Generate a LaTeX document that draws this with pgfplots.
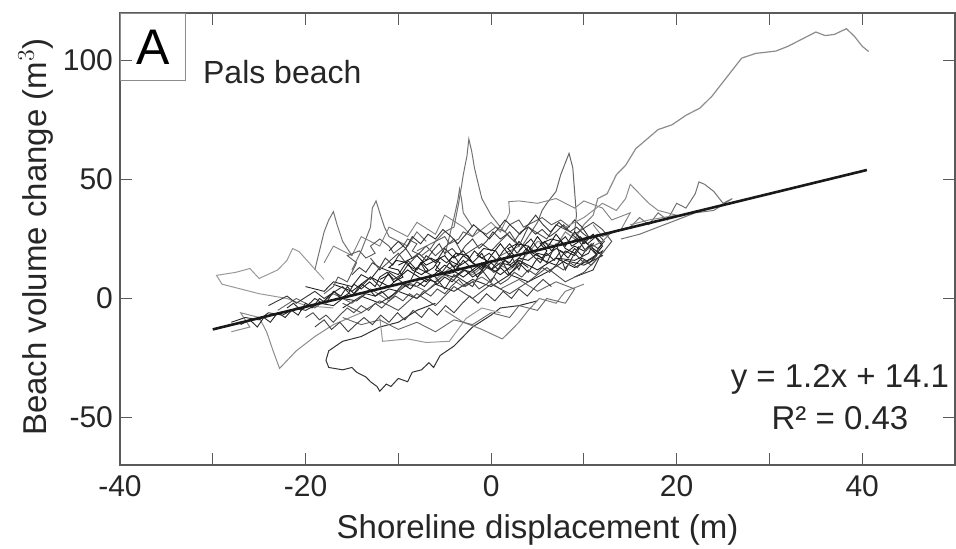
\documentclass[border=0pt]{standalone}
\usepackage{pgfplots}
\pgfplotsset{compat=1.18}
\usepackage{fontspec}
\setmainfont{Liberation Sans}
\definecolor{axgray}{RGB}{90,90,90}
\begin{document}
\begin{tikzpicture}
\begin{axis}[
  at={(0,0)}, anchor=south west,
  scale only axis, width=417.5pt, height=226pt,
  xmin=-40, xmax=50, ymin=-70, ymax=120,
  xtick={-40,-30,...,40}, xticklabels={-40,,-20,,0,,20,,40},
  ytick={-50,0,50,100},
  tick align=inside, tick pos=both,
  major tick length=6pt,
  axis line style={axgray, line width=0.9pt},
  tick style={axgray, line width=0.6pt},
  /pgf/number format/assume math mode=true,
  tick label style={font=\fontsize{15}{18}\selectfont, text=black!85},
  xticklabel style={yshift=-1.5pt},
  label style={font=\fontsize{16.5}{19}\selectfont, text=black!85},
  xlabel={Shoreline displacement (m)},
  ylabel={Beach volume change (m$^3$)},
  xlabel style={yshift=-2.5pt},
  ylabel style={xshift=1pt, yshift=-2pt},
  clip=true,
]
% long grey excursion to the upper right
\addplot[black!45, line width=0.6pt] coordinates {
(-6,8) (-4,14) (-2,10) (0,16) (2,12) (4,19) (5,24) (7,22) (8,28) (9,25) (10,31) (11,35) (11.5,42) (12.5,44) (13.5,52) (14.5,56) (15.6,63) (16.5,66) (18,71) (19.5,73) (21,77) (22.5,80) (23.8,85) (25,91) (26,96) (27,101) (28.5,103) (30.7,104) (32,106) (33.5,109) (35,112) (36,110.5) (37,111) (38.3,113.4) (39.2,110) (40,106) (40.7,103.8)};
% spikes
\addplot[black!55, line width=0.5pt] coordinates {
(-8,20) (-6,24) (-5,28) (-4,30) (-3.5,40) (-3.2,47) (-3,52) (-2.6,60) (-2.4,67) (-2.1,62) (-1.8,55) (-1.5,50) (-1,42) (0,35) (1,30) (2,26) (3,22) (1,18)};
\addplot[black!60, line width=0.5pt] coordinates {
(3,20) (4,26) (5,32) (5.5,37) (6,40) (7,45) (7.5,52) (8,57) (8.4,61) (8.8,55) (9,45) (9.2,35) (9,28) (10,24) (11,27)};
\addplot[black!55, line width=0.5pt] coordinates {
(-5,18) (-4.5,26) (-4,34) (-3.6,41) (-3.4,46) (-3.2,42) (-3,36) (-2,30)};
\addplot[black!55, line width=0.5pt] coordinates {
(-15,12) (-14,20) (-13,30) (-12.8,38) (-12.4,41) (-12,36) (-11.5,30) (-11,26) (-9,22) (-8,28) (-7,24)};
\addplot[black!55, line width=0.5pt] coordinates {
(-19,12) (-18.5,20) (-18,28) (-17.5,33) (-17,36.5) (-16.6,31) (-16,24) (-15,18)};
% lower excursion
\addplot[black!80, line width=0.5pt] coordinates {
(-6,-2) (-8,-5) (-10,-10) (-12,-12) (-14,-16) (-16,-18) (-17.5,-22) (-17.8,-26) (-17.5,-29) (-16,-30) (-15,-29) (-14.5,-31) (-13.5,-33) (-13,-35) (-12.3,-37) (-12,-39) (-11.3,-36) (-10.8,-37) (-10,-33.6) (-9,-35) (-8.5,-31) (-7.5,-30) (-6.7,-27) (-6.2,-29) (-5.5,-24) (-4,-20) (-2,-12) (0,-7) (1,-4) (3,-3) (5,-1)};
\addplot[black!40, line width=0.5pt] coordinates {
(-12,-8) (-11.7,-18) (-9,-17) (-7,-18.5) (-4.5,-18) (-2.7,-8.4) (-1,-4) (1,-6)};
\addplot[black!50, line width=0.5pt] coordinates {
(-5,-5) (-3,-10) (-1,-13) (1.2,-17) (2,-14) (3,-10) (4,-5) (5.2,0) (7,-2) (8,3) (10,6)};
% left grey loops
\addplot[black!40, line width=0.5pt] coordinates {
(-18,8) (-20.7,19.7) (-21.4,21) (-22,16) (-23,12) (-25,8.4) (-26,12.6) (-27.5,11) (-29.6,9.7) (-29,6) (-27,4) (-25,2) (-22,0) (-20,-3) (-17,-4)};
\addplot[black!45, line width=0.5pt] coordinates {
(-14,-6) (-17,-11) (-19,-16) (-21,-22) (-22.8,-29.4) (-23.5,-22) (-24.2,-14) (-25,-8) (-27,-6) (-26,-12) (-28,-14)};
% dense cluster
\addplot[black!85, line width=0.45pt] coordinates {
(-28,-10) (-26.5,-8) (-25,-9) (-24,-6) (-22.5,-7) (-21,-4) (-20,-5) (-18.5,-2) (-17,-3) (-16,0) (-14.5,-1) (-13.5,2) (-12.5,1) (-11,4) (-10,3) (-9,6) (-8,5) (-7,8) (-6,7) (-5,10) (-4,9) (-3,12) (-2,11) (-1,14) (0,12) (1,15) (2,14) (3,17) (4,16) (5,19) (6,18) (7,21) (8,19) (9,22) (10,20) (11,23) (10.5,19) (9,16) (7,17)};
\addplot[black!85, line width=0.45pt] coordinates {
(-20,5) (-18,3) (-17,7) (-15,5) (-14,10) (-13,8) (-12,13) (-10,10) (-9,16) (-8,12) (-7,18) (-6,15) (-5,21) (-4,17) (-3,20) (-2,15) (-1,19) (0,12) (1,17) (2,10) (3,15) (4,11) (5,17) (7,14) (8,20) (9,18) (10,24) (11,21) (12,18) (10,14) (8,16) (6,11) (4,7) (2,10) (0,5) (-2,8) (-4,3) (-6,6) (-8,0) (-10,3) (-12,-2) (-14,1) (-16,-4)};
\addplot[black!60, line width=0.45pt] coordinates {
(-16,-8) (-14,-11) (-12,-9) (-10,-13) (-8,-10) (-6,-14) (-4,-9) (-2,-11) (0,-6) (2,-8) (3,-3) (5,-5) (6,0) (8,-2) (9,4) (7,7) (5,3) (3,8) (1,4) (-1,9) (-3,5) (-5,10) (-7,3) (-9,7) (-11,-1) (-13,4) (-15,-2) (-17,2) (-19,-4) (-21,0) (-23,-5)};
\addplot[black!90, line width=0.45pt] coordinates {
(-10,14) (-8,18) (-7,14) (-5,18) (-4,13) (-3,18) (-1,12) (0,18) (1,23) (2,18) (3,24) (4,20) (5,26) (6,21) (7,27) (8,22) (9,28) (10,23) (11,27) (12,22) (11,17) (9,13) (7,17) (5,12) (3,16) (1,10) (-1,15) (-3,9) (-5,14) (-7,7) (-9,12) (-11,5) (-13,9) (-15,3) (-17,6)};
\addplot[black!50, line width=0.45pt] coordinates {
(-18,15) (-17,22) (-15,18) (-14,26) (-12,22) (-11,30) (-9,26) (-8,32) (-6,27) (-5,35) (-3,30) (-2,26) (0,32) (1,28) (2,36) (1.9,40.7) (3,41) (5,40) (7,42) (9,38) (10,41) (12,38) (13,33) (15,36) (14,29) (12,26) (11,31)};
\addplot[black!80, line width=0.45pt] coordinates {
(-24,-3) (-22,1) (-21,-2) (-19,3) (-18,0) (-16,5) (-15,1) (-13,9) (-12,5) (-11,11) (-9,5) (-8,13) (-6,9) (-5,4) (-4,10) (-2,5) (-1,12) (0,7) (1,14) (2,19) (3,12) (4,22) (6,15) (7,23) (8,12) (9,19) (10,15) (12,20) (11,12) (9,9)};
\addplot[black!70, line width=0.45pt] coordinates {
(-13,17) (-12,12) (-10,19) (-9,14) (-7,22) (-6,18) (-4,25) (-3,18) (-1,23) (0,20) (2,28) (3,22) (4,30) (6,25) (7,31) (9,27) (11,32) (12,29) (13,24) (12,19) (10,11) (8,7) (6,13) (4,7) (2,2) (0,6) (-2,0) (-4,5) (-6,-3) (-8,2) (-10,-5) (-12,-1) (-14,-6) (-16,-2)};
\addplot[black!85, line width=0.45pt] coordinates {
(-22,-4) (-21.3,-2) (-20.5,-5) (-19.8,-3) (-19,0) (-18.2,-2) (-17.5,1) (-16.9,3) (-16.2,0) (-15.4,2) (-14.8,6) (-14,4) (-13.1,7) (-12.5,5) (-12,9) (-11.2,11) (-10.5,8) (-9.7,10) (-9,14) (-8.1,12) (-7.6,15) (-7,11) (-6.2,13) (-5.5,17) (-4.8,15) (-4,18) (-3.3,14) (-2.5,16) (-1.8,20) (-1,17) (-0.2,19) (0.6,16) (1.3,20) (2,23) (2.8,19) (3.5,22) (4.3,25) (5,21) (5.8,24) (6.5,20) (7.2,23) (8,26) (8.7,22) (9.5,24) (10.2,20) (10.8,22) (11.4,18) (10.6,15) (9.8,17) (9,14)};
\addplot[black!75, line width=0.45pt] coordinates {
(-15,10) (-14.2,13) (-13.5,11) (-12.8,15) (-12,13) (-11.4,17) (-10.6,14) (-10,18) (-9.2,21) (-8.5,17) (-7.8,19) (-7,16) (-6.3,20) (-5.6,23) (-5,19) (-4.2,21) (-3.5,18) (-2.8,22) (-2,25) (-1.3,21) (-0.5,24) (0.2,28) (1,25) (1.7,27) (2.5,24) (3.2,28) (4,30) (4.8,27) (5.5,29) (6.3,26) (7,28) (7.8,31) (8.5,28) (9.2,30) (10,27) (10.7,25) (11.5,27) (12.2,24) (11.5,21) (10.8,23) (10,20)};
\addplot[black!70, line width=0.45pt] coordinates {
(-20,-8) (-19.2,-6) (-18.5,-9) (-17.8,-7) (-17,-10) (-16.3,-7) (-15.5,-4) (-14.8,-6) (-14,-3) (-13.2,-5) (-12.5,-2) (-11.8,-4) (-11,-1) (-10.3,1) (-9.5,-1) (-8.8,2) (-8,0) (-7.3,3) (-6.5,1) (-5.8,4) (-5,2) (-4.3,5) (-3.5,8) (-2.8,5) (-2,7) (-1.3,4) (-0.5,6) (0.3,9) (1,6) (1.8,8) (2.5,11) (3.3,9) (4,12) (4.8,10) (5.5,13) (6.3,11) (7,14) (7.8,12) (8.5,15) (9.3,13) (10,16) (10.8,14) (11.5,17)};
\addplot[black!90, line width=0.45pt] coordinates {
(-12,8) (-11,10) (-10.5,7) (-9.5,9) (-10,12) (-11,13) (-10.2,16) (-9,15) (-8.5,12) (-7.5,10) (-6.8,12) (-7.5,15) (-6.5,17) (-5.5,15) (-6,12) (-5,10) (-4,11) (-3.5,14) (-4.5,16) (-3.8,19) (-2.5,18) (-2,15) (-1,13) (-0.5,16) (-1.5,18) (-0.8,21) (0.5,20) (1,17) (2,15) (2.5,18) (1.8,21) (2.8,23) (4,22) (4.5,19) (5.5,17) (6,20) (5.3,23) (6.5,25) (7.5,24) (8,21) (9,19) (9.5,22)};
\addplot[black!65, line width=0.45pt] coordinates {
(-18,2) (-17,5) (-16.5,9) (-15.5,7) (-15,11) (-14.5,15) (-15.5,18) (-14.2,20) (-13.5,17) (-12.5,19) (-13,22) (-12,25) (-11,22) (-10.5,19) (-9.5,22) (-9,25) (-8,23) (-8.5,20) (-7.5,18) (-6.5,21) (-6,24) (-5,26) (-4.5,23) (-3.5,25) (-3,28) (-2,26) (-1.5,29) (-0.5,27) (0.5,30) (1.5,28) (2,31) (3,33) (3.5,30) (4.5,32) (5.5,34) (6.5,31) (7.5,33) (8.5,30)};
\addplot[black!85, line width=0.45pt] coordinates {
(-27,-11) (-26,-9) (-25.2,-12) (-24.5,-8) (-23.8,-10) (-23,-6) (-22.2,-8) (-21.5,-5) (-20.8,-7) (-20,-2) (-19.3,-4) (-18.5,0) (-17.8,-2) (-17,3) (-16.2,1) (-15.5,5) (-14.8,2) (-14,6) (-13.2,4) (-12.5,1) (-11.8,3) (-11,0) (-10.2,3) (-9.5,6) (-8.7,4) (-8,7) (-7.2,5) (-6.5,8) (-5.8,6) (-5,9) (-4.2,7) (-3.5,10) (-2.8,12) (-2,9) (-1.2,11) (-0.5,14) (0.3,11) (1,13) (1.8,10) (2.5,12) (3.3,15) (4,13)};
\addplot[black!80, line width=0.45pt] coordinates {
(-11,20) (-10,24) (-9.2,21) (-8.5,26) (-7.6,23) (-6.8,27) (-6,25) (-5.2,29) (-4.3,26) (-3.6,23) (-2.7,27) (-1.9,31) (-1,28) (-0.2,25) (0.7,29) (1.5,33) (2.3,30) (3.1,27) (4,31) (4.8,35) (5.6,31) (6.4,28) (7.3,32) (8.1,29) (9,33) (9.8,30) (10.5,26) (9.6,24) (8.7,27)};
\addplot[black!75, line width=0.45pt] coordinates {
(-19,-12) (-18,-9) (-17.2,-13) (-16.3,-10) (-15.4,-14) (-14.6,-11) (-13.7,-8) (-12.8,-11) (-11.9,-7) (-11,-10) (-10.1,-6) (-9.3,-9) (-8.4,-5) (-7.5,-8) (-6.7,-4) (-5.8,-7) (-4.9,-3) (-4,-6) (-3.1,-2) (-2.3,1) (-1.4,-2) (-0.5,2) (0.4,-1) (1.3,3) (2.2,0) (3,4) (3.9,1) (4.8,5) (5.6,8) (6.5,5)};
\addplot[black!85, line width=0.45pt] coordinates {
(-6,14) (-5.3,11) (-4.5,15) (-3.8,12) (-3,16) (-2.2,13) (-1.5,9) (-0.7,12) (0,15) (0.8,12) (1.5,16) (2.3,13) (3,17) (3.8,21) (4.5,18) (5.3,15) (6,19) (6.8,16) (7.5,20) (8.3,17) (9,21) (9.8,18) (10.5,22) (11.2,19) (12,23) (11.3,26) (10.4,23) (9.6,26) (8.8,24)};
% right branch
\addplot[black!55, line width=0.5pt] coordinates {
(10,20) (12,24) (13,28) (15,30) (16,34) (17,31) (18,36) (19,33) (20,40) (21,38) (22,44) (22.4,49) (23,48) (24,45) (25,40) (26,42) (24,37) (22,36) (20,33) (18,30) (16,27) (14,25)};
\addplot[black!45, line width=0.5pt] coordinates {
(8,30) (10,34) (12,40) (13.5,37) (14.5,42) (15,48) (16,44) (17,40) (18,37) (20,35) (17,33) (15,31)};
% regression line
\addplot[black!90, line width=1.3pt] coordinates {(-30,-13) (40.5,54)};
% annotations
\node[draw=black!45, line width=0.6pt, anchor=north west, minimum width=32.5pt, minimum height=33.5pt, inner sep=0pt, font=\fontsize{25}{27}\selectfont] at (rel axis cs:0,1) {A};
\node[anchor=west, font=\fontsize{16}{19}\selectfont, text=black!85] at (axis cs:-31.8,95) {Pals beach};
\node[align=center, font=\fontsize{16.5}{21}\selectfont, text=black!85] at (axis cs:37.6,-41.5) {y = 1.2x + 14.1\\R² = 0.43};
\end{axis}
\pgfresetboundingbox
\path (-60pt,-42pt) rectangle (418pt,232.5pt);
\end{tikzpicture}
\end{document}
